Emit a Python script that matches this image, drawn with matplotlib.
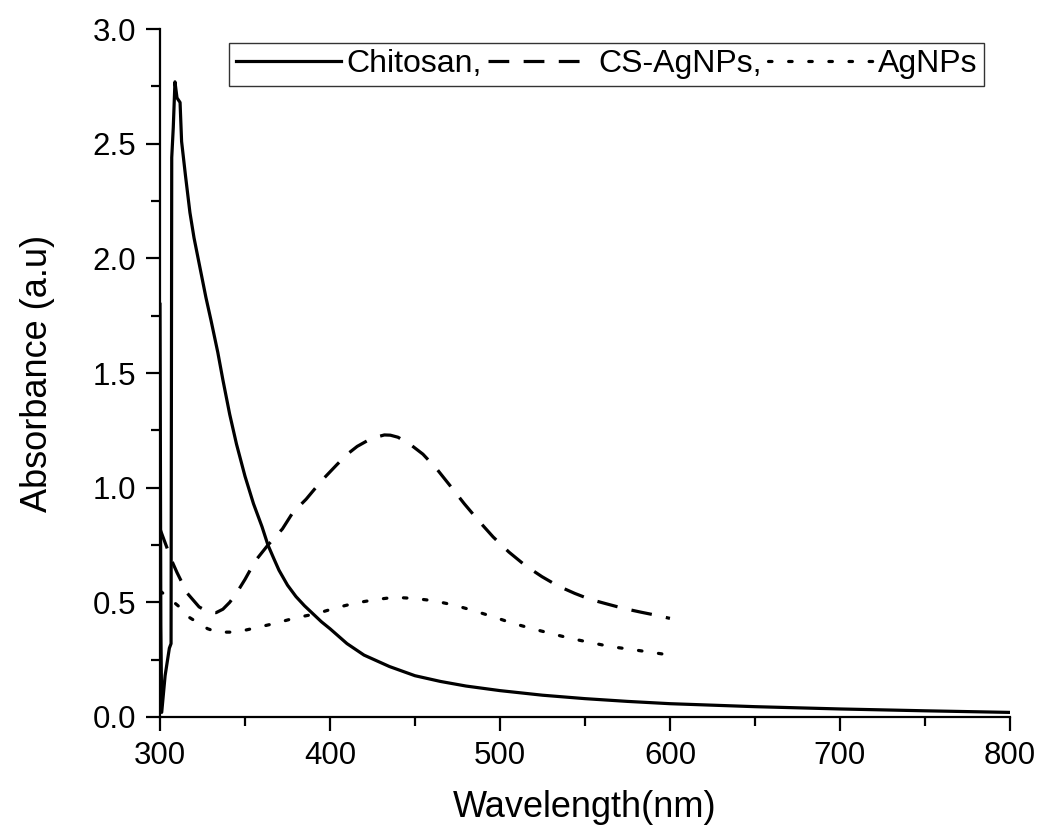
import numpy as np
import matplotlib
matplotlib.use("Agg")
import matplotlib.pyplot as plt
from matplotlib.ticker import MultipleLocator

plt.rcParams['font.family'] = ['Liberation Sans', 'DejaVu Sans']

# Chitosan spectrum
chitosan_wl = [300, 300.5, 301, 303, 305.5, 306.5, 306.9, 307.8, 308.8, 310, 311.8,
               312.7, 315, 317.6, 320, 323.5, 327, 330, 334, 337, 341, 345, 350,
               355, 360, 363.5, 367, 370, 375, 380, 385, 390, 395, 400, 410, 420,
               435, 450, 465, 480, 500, 525, 550, 575, 600, 650, 700, 750, 800]
chitosan_abs = [1.80, 0.40, 0.02, 0.18, 0.30, 0.32, 2.44, 2.57, 2.77, 2.70, 2.68,
                2.51, 2.36, 2.20, 2.09, 1.96, 1.83, 1.73, 1.59, 1.47, 1.32, 1.19, 1.05,
                0.93, 0.83, 0.75, 0.69, 0.64, 0.575, 0.525, 0.485, 0.45, 0.415, 0.385, 0.32, 0.27,
                0.22, 0.18, 0.155, 0.135, 0.115, 0.095, 0.08, 0.068, 0.058, 0.045, 0.035, 0.027, 0.02]

# CS-AgNPs spectrum
cs_agnps_wl = [300, 303, 307, 310, 316, 323, 328, 333, 337, 341, 345, 350, 356, 363.5,
               372, 378, 386, 395, 404, 410, 416, 422, 428, 432, 435.5, 440, 447, 454.7,
               463, 471.6, 479, 487.3, 496, 505.3, 515, 524.7, 534, 544, 553, 563.4,
               573, 583, 591, 600]
cs_agnps_abs = [0.82, 0.76, 0.68, 0.63, 0.54, 0.48, 0.46, 0.455, 0.47, 0.50, 0.54, 0.60,
                0.68, 0.75, 0.82, 0.89, 0.95, 1.03, 1.10, 1.145, 1.18, 1.205, 1.222, 1.23,
                1.229, 1.22, 1.19, 1.146, 1.08, 1.00, 0.93, 0.857, 0.785, 0.719, 0.66,
                0.612, 0.572, 0.539, 0.513, 0.492, 0.473, 0.457, 0.445, 0.43]

# AgNPs spectrum
agnps_wl = [300, 305, 310.8, 316, 322.5, 328, 333.7, 345, 357, 368.6, 380, 391.8,
            403.5, 415, 426.9, 437.8, 449.6, 461, 473, 484, 496, 507, 519, 530.6,
            542, 553.7, 565, 577, 588, 600]
agnps_abs = [0.55, 0.52, 0.484, 0.44, 0.41, 0.385, 0.37, 0.37, 0.39, 0.41, 0.433, 0.45,
             0.476, 0.497, 0.512, 0.522, 0.517, 0.507, 0.488, 0.465, 0.437, 0.41, 0.385,
             0.363, 0.342, 0.324, 0.307, 0.295, 0.283, 0.27]

x_ticks = [300, 400, 500, 600, 700, 800]
y_ticks = [0.0, 0.5, 1.0, 1.5, 2.0, 2.5, 3.0]

fig = plt.figure(figsize=(10.39, 8.31), dpi=100)
ax = fig.add_axes([0.154, 0.1372, 0.818, 0.8278])

lw = 2.3
ax.plot(chitosan_wl, chitosan_abs, color='black', lw=lw, label='Chitosan,')
ax.plot(cs_agnps_wl, cs_agnps_abs, color='black', lw=lw, dashes=(6.5, 4.5),
        label='CS-AgNPs,')
ax.plot(agnps_wl, agnps_abs, color='black', lw=lw, dashes=(1.1, 5.2),
        dash_capstyle='round', label='AgNPs')

ax.set_xlim(300, 800)
ax.set_ylim(0, 3.0)
ax.set_xticks(x_ticks)
ax.set_yticks(y_ticks)
ax.xaxis.set_minor_locator(MultipleLocator(50))
ax.yaxis.set_minor_locator(MultipleLocator(0.25))
ax.set_yticklabels([f"{v:.1f}" for v in y_ticks])

for side in ['top', 'right']:
    ax.spines[side].set_visible(False)
for side in ['left', 'bottom']:
    ax.spines[side].set_linewidth(1.6)

ax.tick_params(which='major', direction='out', length=10, width=1.6,
               labelsize=22.5, pad=7)
ax.tick_params(which='minor', direction='out', length=6.5, width=1.6)

ax.set_xlabel('Wavelength(nm)', fontsize=26, labelpad=14)
ax.set_ylabel('Absorbance (a.u)', fontsize=26, labelpad=27)

leg = ax.legend(loc='upper right', ncol=3, fontsize=23, frameon=True,
                fancybox=False, edgecolor='black', handlelength=3.3,
                handletextpad=0.15, columnspacing=0.2, borderpad=0.2,
                borderaxespad=0.0, bbox_to_anchor=(0.9694, 0.9797))
leg.get_frame().set_linewidth(1.0)

fig.savefig('out.png', dpi=100)
